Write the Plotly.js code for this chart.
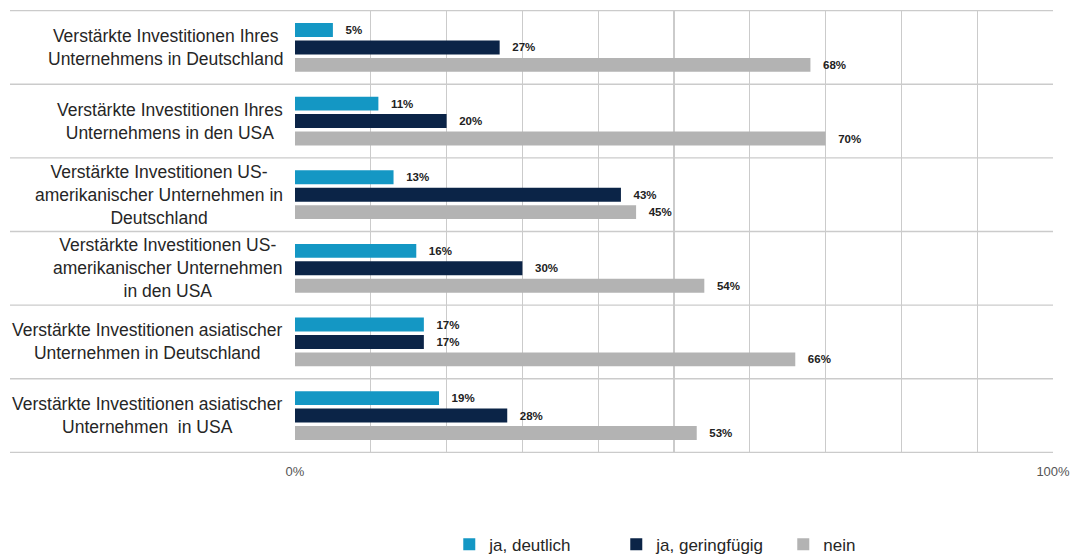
<!DOCTYPE html>
<html>
<head>
<meta charset="utf-8">
<script src="https://cdn.plot.ly/plotly-3.0.1.min.js"></script>
<style>html,body{margin:0;padding:0;background:#fff;}#chart{width:1071px;height:554px;}</style>
</head>
<body>
<div id="chart"></div>
<script>
var categories = [
  "Verstärkte Investitionen Ihres<br>Unternehmens in Deutschland",
  "Verstärkte Investitionen Ihres<br>Unternehmens in den USA",
  "Verstärkte Investitionen US-<br>amerikanischer Unternehmen in<br>Deutschland",
  "Verstärkte Investitionen US-<br>amerikanischer Unternehmen<br>in den USA",
  "Verstärkte Investitionen asiatischer<br>Unternehmen in Deutschland",
  "Verstärkte Investitionen asiatischer<br>Unternehmen  in USA"
];
var seriesNames = ["ja, deutlich", "ja, geringfügig", "nein"];
var jaDeutlich = [5, 11, 13, 16, 17, 19];
var jaGeringfuegig = [27, 20, 43, 30, 17, 28];
var nein = [68, 70, 45, 54, 66, 53];
var seriesColors = ["#1497c4", "#0b2447", "#b3b3b3"];
var tickVals = [0, 10, 20, 30, 40, 50, 60, 70, 80, 90, 100];
var tickText = ["0%", "", "", "", "", "", "", "", "", "", "100%"];

var allSeries = [jaDeutlich, jaGeringfuegig, nein];
var traces = allSeries.map(function (vals, i) {
  return {
    type: "bar",
    orientation: "h",
    name: seriesNames[i],
    x: vals,
    y: categories.map(function (c, k) { return k; }),
    marker: { color: seriesColors[i], line: { width: 0 } },
    text: vals.map(function (v) { return "\u00a0\u00a0\u00a0" + v + "%"; }),
    textposition: "outside",
    cliponaxis: false,
    textfont: { family: "Liberation Sans, Arial, sans-serif", size: 11.5, color: "#222222", weight: "bold" },
    hoverinfo: "skip"
  };
});

var gridColor = "#cbcbcb";
var shapes = [];
for (var k = 0; k <= categories.length; k++) {
  shapes.push({
    type: "line", xref: "paper", yref: "y",
    x0: -0.376, x1: 1, y0: k - 0.5, y1: k - 0.5,
    line: { color: gridColor, width: 1.3 }, layer: "below"
  });
}

var annotations = categories.map(function (c, k) {
  return {
    xref: "paper", yref: "y", x: -0.0135, y: k,
    xanchor: "right", yanchor: "middle", align: "center",
    text: c, showarrow: false,
    font: { family: "Liberation Sans, Arial, sans-serif", size: 17.5, color: "#262626" }
  };
});

var layout = {
  width: 1071, height: 554,
  margin: { l: 295, r: 18, t: 10, b: 101, autoexpand: false },
  paper_bgcolor: "#ffffff", plot_bgcolor: "#ffffff",
  barmode: "group", bargap: 0.29, bargroupgap: 0.2,
  showlegend: true,
  xaxis: {
    range: [0, 100], tickvals: tickVals, ticktext: tickText,
    showgrid: true, gridcolor: gridColor, gridwidth: 1.3,
    zeroline: false, showline: false, ticks: "",
    ticklabelstandoff: 9,
    tickfont: { family: "Liberation Sans, Arial, sans-serif", size: 13, color: "#555555" },
    fixedrange: true
  },
  yaxis: {
    autorange: "reversed", range: [-0.5, 5.5],
    showticklabels: false, showgrid: false, zeroline: false, ticks: "",
    fixedrange: true
  },
  shapes: shapes,
  annotations: annotations,
  legend: {
    orientation: "h", x: 0.534, xanchor: "center", y: -0.207, yanchor: "middle",
    entrywidth: 122, traceorder: "normal", itemwidth: 30,
    font: { family: "Liberation Sans, Arial, sans-serif", size: 17, color: "#262626" }
  },
  font: { family: "Liberation Sans, Arial, sans-serif" }
};

Plotly.newPlot("chart", traces, layout, { displayModeBar: false, staticPlot: true });
</script>
</body>
</html>
